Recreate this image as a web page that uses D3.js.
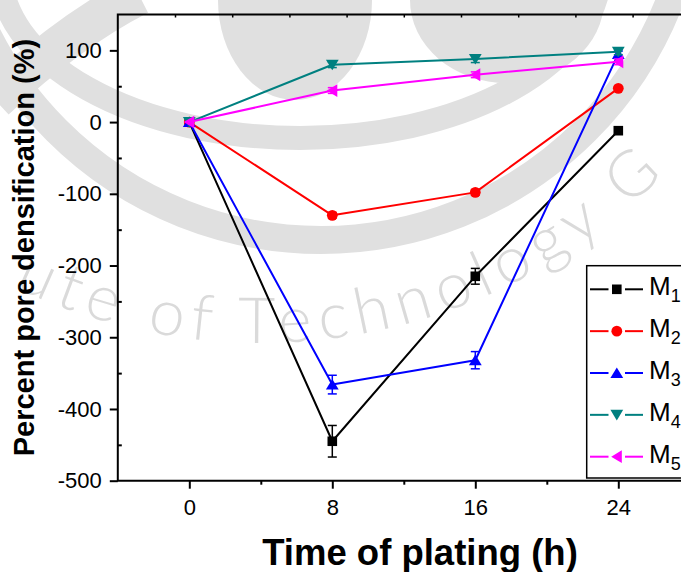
<!DOCTYPE html>
<html>
<head>
<meta charset="utf-8">
<script src="https://cdn.jsdelivr.net/npm/d3@7"></script>
<style>
  html, body { margin: 0; padding: 0; background: #fff; }
  svg { display: block; font-family: "Liberation Sans", Arial, sans-serif; }
</style>
</head>
<body>
<svg id="chart" width="681" height="572"></svg>
<script>
// Plating time (h) and percent pore densification for each sample
const times = [0, 8, 16, 24];
const seriesNames = ["M1", "M2", "M3", "M4", "M5"];
const m1 = [0, -445, -215, -12];
const m2 = [0, -130, -98, 47];
const m3 = [0, -366, -332, 95];
const m4 = [0, 80, 88, 98];
const m5 = [0, 44, 66, 84];
const m1Err = [0, 22, 11, 0];
const m2Err = [0, 4, 4, 0];
const m3Err = [0, 13, 12, 4];
const m4Err = [0, 4, 5, 4];
const m5Err = [0, 4, 4, 4];

const xTicks = [0, 8, 16, 24];
const xMinorTicks = [4, 12, 20];
const yTicks = [-500, -400, -300, -200, -100, 0, 100];
const yMinorTicks = [-450, -350, -250, -150, -50, 50];
const xDomain = [-4, 28];
const yDomain = [-500, 150];

const colors = ["#000000", "#ff0000", "#0000ff", "#008080", "#ff00ff"];
const symbolKinds = ["square", "circle", "up", "down", "left"];

const series = seriesNames.map((name, i) => ({
  name,
  values: [m1, m2, m3, m4, m5][i],
  errors: [m1Err, m2Err, m3Err, m4Err, m5Err][i],
  color: colors[i],
  kind: symbolKinds[i]
}));

const svg = d3.select("#chart");
const W = 681, H = 572;
const plot = { left: 117.8, right: 689.8, top: 14.5, bottom: 480.7 };

const x = d3.scaleLinear().domain(xDomain).range([plot.left, plot.right]);
const y = d3.scaleLinear().domain(yDomain).range([plot.bottom, plot.top]);

svg.append("rect").attr("width", W).attr("height", H).attr("fill", "#fff");

// ---- faint institutional watermark behind the figure ----
const wm = svg.append("g").attr("class", "watermark");
const wmGrey = "#e0e0e0";
wm.append("circle").attr("cx", 321).attr("cy", -134).attr("r", 374)
  .attr("fill", "none").attr("stroke", wmGrey).attr("stroke-width", 28);
wm.append("ellipse").attr("cx", 300).attr("cy", -30).attr("rx", 300).attr("ry", 168)
  .attr("fill", "none").attr("stroke", wmGrey).attr("stroke-width", 24);
wm.append("path").attr("d", "M139,-5Q70,30 -5,100")
  .attr("fill", "none").attr("stroke", wmGrey).attr("stroke-width", 40);
wm.append("ellipse").attr("cx", 295).attr("cy", 0).attr("rx", 77).attr("ry", 100)
  .attr("fill", wmGrey);
wm.append("ellipse").attr("cx", 507).attr("cy", 0).attr("rx", 97).attr("ry", 83)
  .attr("fill", wmGrey);

// curved lettering, one glyph at a time along a circle
const wmArc = { cx: 260, cy: -225, r: 568 };
const wmString = "Institute of Technology Gandhinagar";
const wmFontFamily = "Lato, 'Open Sans', sans-serif";
const wmFontSize = 64;
const probe = wm.append("text")
  .attr("font-family", wmFontFamily).attr("font-weight", 300).attr("font-size", wmFontSize)
  .attr("x", -2000).attr("y", -2000).text(wmString);
const chars = [...wmString];
const adv = chars.map((c, i) => probe.node().getSubStringLength(i, 1));
probe.remove();
const iStart = 10, iG = 24;
const thStart = 101.5 * Math.PI / 180, thG = 49.5 * Math.PI / 180;
const natural = d3.sum(adv.slice(iStart, iG));
const spacing = (wmArc.r * (thStart - thG) - natural) / (iG - iStart);
const pos = new Array(chars.length);
pos[iStart] = 0;
for (let i = iStart + 1; i < chars.length; i++) pos[i] = pos[i - 1] + adv[i - 1] + spacing;
for (let i = iStart - 1; i >= 0; i--) pos[i] = pos[i + 1] - adv[i] - spacing;
chars.forEach((c, i) => {
  if (c === " ") return;
  const th = thStart - (pos[i] + adv[i] / 2) / wmArc.r;
  const bx = wmArc.cx + wmArc.r * Math.cos(th), by = wmArc.cy + wmArc.r * Math.sin(th);
  const mx = wmArc.cx + (wmArc.r - 22) * Math.cos(th);
  if (mx < 8 || mx > 660) return;
  wm.append("text")
    .attr("font-family", wmFontFamily).attr("font-weight", 300).attr("font-size", wmFontSize)
    .attr("fill", "#dadada").attr("text-anchor", "middle")
    .attr("transform", `translate(${bx},${by}) rotate(${th * 180 / Math.PI - 90})`)
    .text(c);
});

// ---- axes ----
const axisG = svg.append("g");
const fontTick = 22;
const fmt = (d) => String(d);

const yAxis = d3.axisLeft(y).tickValues(yTicks).tickFormat(fmt).tickSize(8).tickPadding(8).tickSizeOuter(0);
const gy = axisG.append("g").attr("transform", `translate(${plot.left},0)`).call(yAxis);
gy.select(".domain").remove();
gy.selectAll(".tick line").attr("stroke", "#000").attr("stroke-width", 2);
gy.selectAll("text").attr("font-size", fontTick).attr("font-family", "Liberation Sans, Arial, sans-serif").attr("fill", "#000");

const yMinor = d3.axisLeft(y).tickValues(yMinorTicks).tickSize(-4).tickFormat("").tickSizeOuter(0);
const gym = axisG.append("g").attr("transform", `translate(${plot.left},0)`).call(yMinor);
gym.select(".domain").remove();
gym.selectAll(".tick line").attr("stroke", "#000").attr("stroke-width", 2);

const xAxis = d3.axisBottom(x).tickValues(xTicks).tickFormat(fmt).tickSize(8).tickPadding(11).tickSizeOuter(0);
const gx = axisG.append("g").attr("transform", `translate(0,${plot.bottom})`).call(xAxis);
gx.select(".domain").remove();
gx.selectAll(".tick line").attr("stroke", "#000").attr("stroke-width", 2);
gx.selectAll("text").attr("font-size", fontTick).attr("font-family", "Liberation Sans, Arial, sans-serif").attr("fill", "#000");

const xMinor = d3.axisBottom(x).tickValues(xMinorTicks).tickSize(4).tickFormat("").tickSizeOuter(0);
const gxm = axisG.append("g").attr("transform", `translate(0,${plot.bottom})`).call(xMinor);
gxm.select(".domain").remove();
gxm.selectAll(".tick line").attr("stroke", "#000").attr("stroke-width", 2);

// top frame axis: unlabeled ticks at tenths of the span
const xTop = d3.scaleLinear().domain([0, 10]).range([plot.left, plot.right]);
const topAxis = d3.axisTop(xTop).tickValues(d3.range(1, 10)).tickSize(-3).tickFormat("").tickSizeOuter(0);
const gt = axisG.append("g").attr("transform", `translate(0,${plot.top})`).call(topAxis);
gt.select(".domain").remove();
gt.selectAll(".tick line").attr("stroke", "#000").attr("stroke-width", 1.5);

// frame lines
axisG.append("path")
  .attr("d", `M${plot.right},${plot.top}H${plot.left}V${plot.bottom}H${plot.right}`)
  .attr("fill", "none").attr("stroke", "#000").attr("stroke-width", 2);

// ---- titles ----
svg.append("text")
  .attr("transform", `translate(33.5,${(plot.top + plot.bottom) / 2}) rotate(-90)`)
  .attr("text-anchor", "middle")
  .attr("font-weight", "bold")
  .attr("font-size", 29)
  .text("Percent pore densification (%)");

svg.append("text")
  .attr("x", 420).attr("y", 565)
  .attr("text-anchor", "middle")
  .attr("font-weight", "bold")
  .attr("font-size", 36.5)
  .text("Time of plating (h)");

// ---- marker shapes ----
function markerPath(kind) {
  switch (kind) {
    case "square": return "M-4.8,-4.8H4.8V4.8H-4.8Z";
    case "circle": return d3.symbol(d3.symbolCircle, Math.PI * 5.4 * 5.4)();
    case "up": return "M0,-5.6L6.4,5H-6.4Z";
    case "down": return "M0,5.6L6.4,-5H-6.4Z";
    case "left": return "M-5.6,0L5,-6.4V6.4Z";
  }
}

// ---- series ----
const line = d3.line().x((d) => x(d.t)).y((d) => y(d.v));
const dataG = svg.append("g");
series.forEach((s) => {
  const pts = times.map((t, i) => ({ t, v: s.values[i], e: s.errors[i] }));
  const g = dataG.append("g");
  g.append("path").datum(pts).attr("d", line)
    .attr("fill", "none").attr("stroke", s.color).attr("stroke-width", 2)
    .attr("stroke-linejoin", "round");
  // error bars
  const eb = g.selectAll(".eb").data(pts.filter((d) => d.e > 0)).join("g");
  eb.append("line")
    .attr("x1", (d) => x(d.t)).attr("x2", (d) => x(d.t))
    .attr("y1", (d) => y(d.v - d.e)).attr("y2", (d) => y(d.v + d.e))
    .attr("stroke", s.color).attr("stroke-width", 1.5);
  [1, -1].forEach((sg) => {
    eb.append("line")
      .attr("x1", (d) => x(d.t) - 4.5).attr("x2", (d) => x(d.t) + 4.5)
      .attr("y1", (d) => y(d.v + sg * d.e)).attr("y2", (d) => y(d.v + sg * d.e))
      .attr("stroke", s.color).attr("stroke-width", 1.5);
  });
  g.selectAll(".mk").data(pts).join("path")
    .attr("transform", (d) => `translate(${x(d.t)},${y(d.v)})`)
    .attr("d", markerPath(s.kind))
    .attr("fill", s.color);
});

// ---- legend ----
const leg = svg.append("g");
const legBox = { x: 586.7, y: 265.7, w: 110, h: 212.3 };
leg.append("rect").attr("x", legBox.x).attr("y", legBox.y)
  .attr("width", legBox.w).attr("height", legBox.h)
  .attr("fill", "#fff").attr("stroke", "#000").attr("stroke-width", 1.5);
const rowY = d3.scalePoint().domain(seriesNames).range([289.3, 456.7]);
series.forEach((s) => {
  const ry = rowY(s.name);
  const r = leg.append("g");
  r.append("line").attr("x1", 590).attr("x2", 608.5).attr("y1", ry).attr("y2", ry)
    .attr("stroke", s.color).attr("stroke-width", 2);
  r.append("line").attr("x1", 625).attr("x2", 643).attr("y1", ry).attr("y2", ry)
    .attr("stroke", s.color).attr("stroke-width", 2);
  r.append("path").attr("transform", `translate(616.8,${ry})`)
    .attr("d", markerPath(s.kind)).attr("fill", s.color);
  const t = r.append("text").attr("x", 649).attr("y", ry + 6)
    .attr("font-size", 26).attr("fill", "#000");
  t.append("tspan").text(s.name.charAt(0));
  t.append("tspan").attr("dy", 7).attr("font-size", 18).text(s.name.slice(1));
});
</script>
</body>
</html>
